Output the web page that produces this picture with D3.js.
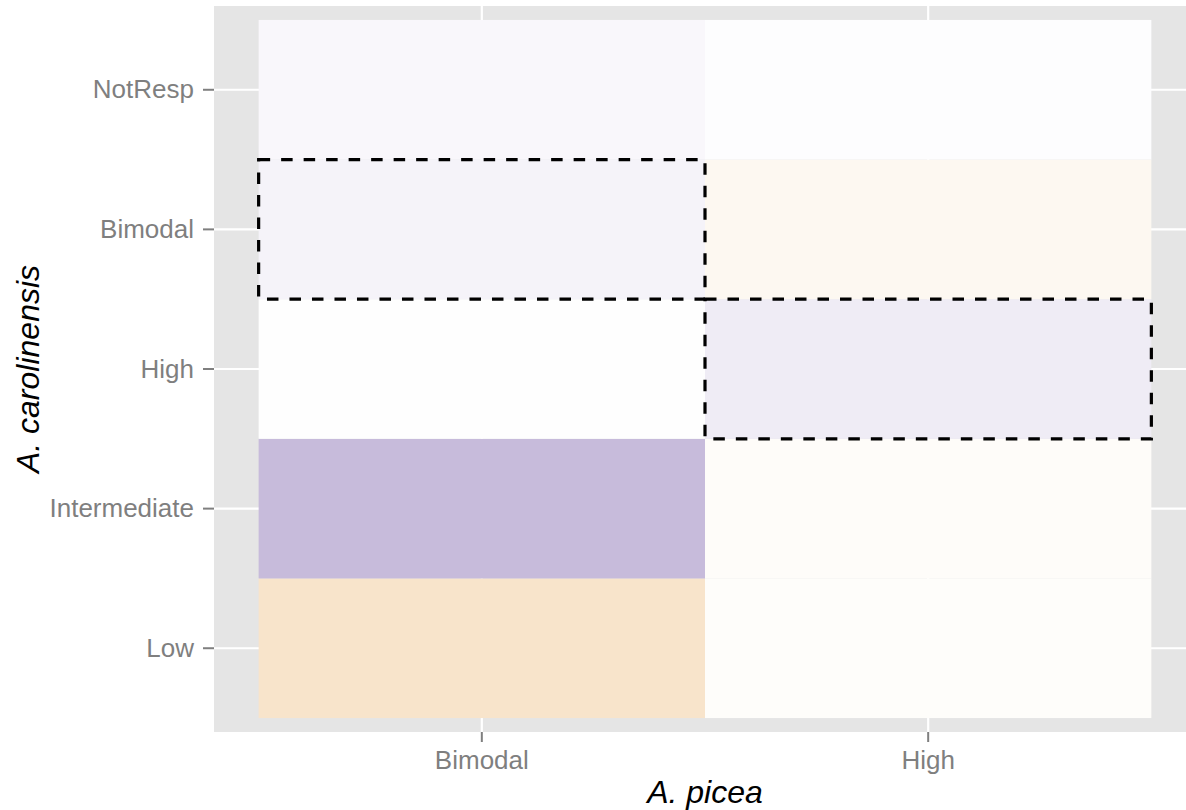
<!DOCTYPE html>
<html>
<head>
<meta charset="utf-8">
<script src="https://cdn.jsdelivr.net/npm/d3@7"></script>
<style>
  html, body { margin: 0; padding: 0; background: #ffffff; }
  svg { display: block; font-family: "Liberation Sans", Arial, Helvetica, sans-serif; }
</style>
</head>
<body>
<svg id="chart" width="1186" height="810"></svg>
<script>
// Categories on each axis
const xCats = ["Bimodal", "High"];                                   // A. picea
const yCats = ["Low", "Intermediate", "High", "Bimodal", "NotResp"]; // A. carolinensis

// Cell values for each A. picea column, in yCats order
const bimodalValues = [0.22, -0.35, -0.005, -0.06, -0.04];
const highValues    = [0.02, 0.025, -0.10, 0.06, -0.01];

// Cells outlined with a dashed border (matching categories)
const outlinedX = ["Bimodal", "High"];
const outlinedY = ["Bimodal", "High"];

const cells = [];
yCats.forEach((y, i) => {
  cells.push({ x: "Bimodal", y, v: bimodalValues[i] });
  cells.push({ x: "High", y, v: highValues[i] });
});
const outlined = outlinedX.map((x, i) => ({ x, y: outlinedY[i] }));

const panel = { left: 214, top: 6, width: 982, height: 726 };

const svg = d3.select("#chart");

// Discrete scales with a 0.6 expansion around the first/last category
const x = d3.scaleBand()
  .domain(xCats)
  .range([panel.left, panel.left + panel.width])
  .paddingInner(0)
  .paddingOuter(0.1);

const y = d3.scaleBand()
  .domain(yCats.slice().reverse())
  .range([panel.top, panel.top + panel.height])
  .paddingInner(0)
  .paddingOuter(0.1);

const color = d3.scaleLinear()
  .domain([-1, 0, 1])
  .range(["#5e3c99", "#ffffff", "#e08214"]);

// Panel background
svg.append("rect")
  .attr("x", panel.left).attr("y", panel.top)
  .attr("width", panel.width).attr("height", panel.height)
  .attr("fill", "#e5e5e5");

// Grid lines
const grid = svg.append("g");
grid.selectAll("line.gx").data(xCats).join("line")
  .attr("x1", d => x(d) + x.bandwidth() / 2)
  .attr("x2", d => x(d) + x.bandwidth() / 2)
  .attr("y1", panel.top).attr("y2", panel.top + panel.height)
  .attr("stroke", "#ffffff").attr("stroke-width", 2.2);
grid.selectAll("line.gy").data(yCats).join("line")
  .attr("y1", d => y(d) + y.bandwidth() / 2)
  .attr("y2", d => y(d) + y.bandwidth() / 2)
  .attr("x1", panel.left).attr("x2", panel.left + panel.width)
  .attr("stroke", "#ffffff").attr("stroke-width", 2.2);

// Tiles
svg.append("g").selectAll("rect").data(cells).join("rect")
  .attr("x", d => x(d.x))
  .attr("y", d => y(d.y))
  .attr("width", x.bandwidth())
  .attr("height", y.bandwidth())
  .attr("fill", d => color(d.v));

// Dashed outlines
svg.append("g").selectAll("rect").data(outlined).join("rect")
  .attr("x", d => x(d.x))
  .attr("y", d => y(d.y))
  .attr("width", x.bandwidth())
  .attr("height", y.bandwidth())
  .attr("fill", "none")
  .attr("stroke", "#000000")
  .attr("stroke-width", 3.2)
  .attr("stroke-dasharray", "11.5,11");

// Axes
const tickColor = "#7f7f7f";
const xAxis = svg.append("g")
  .attr("transform", `translate(0,${panel.top + panel.height})`)
  .call(d3.axisBottom(x).tickSize(10).tickPadding(6));
const yAxis = svg.append("g")
  .attr("transform", `translate(${panel.left},0)`)
  .call(d3.axisLeft(y).tickSize(11).tickPadding(9));

[xAxis, yAxis].forEach(a => {
  a.select(".domain").remove();
  a.selectAll(".tick line").attr("stroke", tickColor).attr("stroke-width", 2);
  a.selectAll(".tick text")
    .attr("fill", tickColor)
    .attr("font-size", 26)
    .attr("font-family", "'Liberation Sans', Arial, sans-serif");
});
xAxis.selectAll(".tick text").attr("dy", null).attr("y", 0)
  .attr("transform", "translate(0,37)");
yAxis.selectAll(".tick text").attr("dy", "0.33em");

// Axis titles
svg.append("text")
  .attr("x", panel.left + panel.width / 2)
  .attr("y", 803)
  .attr("text-anchor", "middle")
  .attr("font-size", 32)
  .attr("font-style", "italic")
  .attr("fill", "#000000")
  .text("A. picea");

svg.append("text")
  .attr("transform", `translate(39,${panel.top + panel.height / 2}) rotate(-90)`)
  .attr("text-anchor", "middle")
  .attr("font-size", 32)
  .attr("font-style", "italic")
  .attr("fill", "#000000")
  .text("A. carolinensis");
</script>
</body>
</html>
